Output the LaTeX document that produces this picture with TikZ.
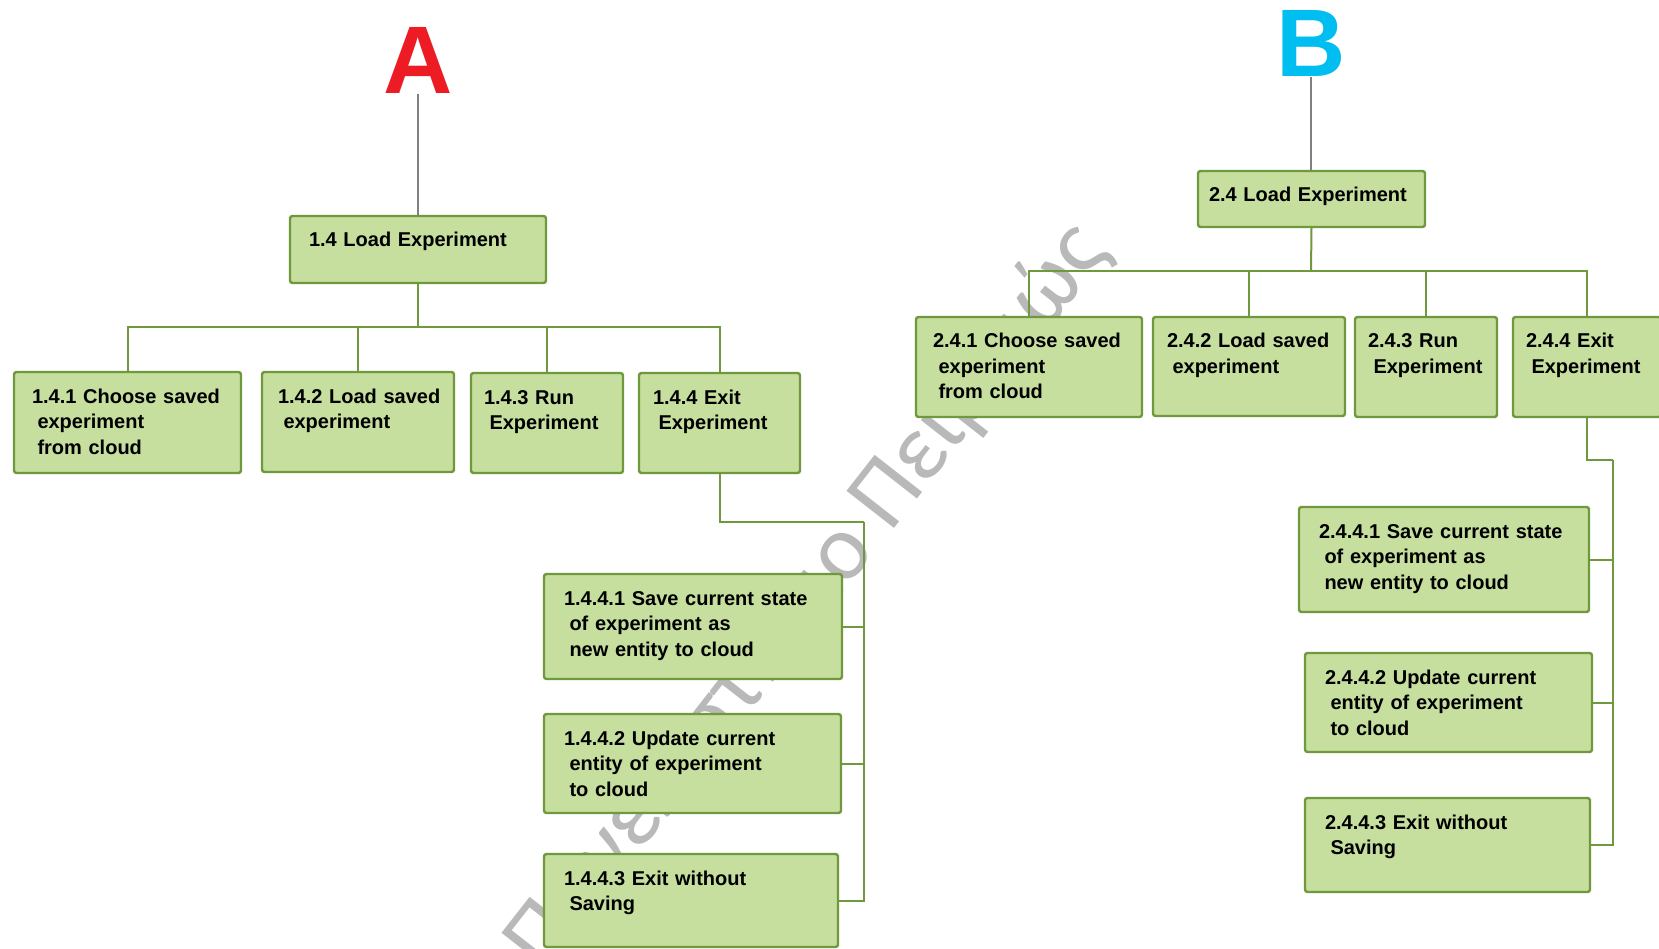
\documentclass[tikz,border=0pt]{standalone}
\usepackage{fontspec}
\setmainfont{Liberation Sans}
\newfontfamily\wmfont{Carlito}
\usetikzlibrary{calc}

\definecolor{boxfill}{RGB}{198,222,158}
\definecolor{boxline}{RGB}{112,152,60}
\definecolor{stemgray}{RGB}{128,128,128}
\definecolor{markA}{RGB}{237,28,36}
\definecolor{markB}{RGB}{0,190,240}
\definecolor{wmgray}{RGB}{185,185,185}

% indent of the continuation lines inside a box
\newcommand\wbsind{\hspace*{5.5pt}}

% box: name, left, top, right, bottom, text inset, text
\newcommand\wbsbox[7]{%
  \pgfmathsetmacro\wbsw{#4-#2-#6-2}%
  \node[box, anchor=north west, minimum width=#4-#2, minimum height=#5-#3] (#1) at (#2,#3) {};
  \node[lbl, text width=\wbsw pt, anchor=base west] (#1-t) at ($(#1.north west)+(#6,31)$) {#7};
}

\begin{document}
\begin{tikzpicture}[x=1pt, y=-1pt,
  box/.style={draw=boxline, fill=boxfill, line width=2.4pt, rounded corners=2.5pt,
              inner sep=0pt, outer sep=0pt},
  lbl/.style={inner sep=0pt, outer sep=0pt, align=left,
              font=\fontsize{20}{25.5}\selectfont\bfseries, text=black},
  conn/.style={draw=boxline, line width=2pt},
  stem/.style={draw=stemgray, line width=1.8pt},
  letter/.style={inner sep=0pt, outer sep=0pt, font=\fontsize{96}{96}\selectfont\bfseries}]

\useasboundingbox (0,0) rectangle (1659,949);
\fill[white] (0,0) rectangle (1659,949);

% watermark behind everything
\node[inner sep=0pt, anchor=base, rotate=52, text=wmgray,
      font=\wmfont\fontsize{94}{94}\selectfont] (wm) at (828,613) {Πανεπιστήμιο Πειραιώς};

% ---------------- tree A ----------------
\node[letter, text=markA, anchor=base] (A) at (418,94) {A};

\wbsbox{L14}{290}{216}{546}{283}{19}{1.4 Load Experiment}
\wbsbox{L141}{14}{372}{241}{473}{18}{1.4.1 Choose saved\\\wbsind experiment\\\wbsind from cloud}
\wbsbox{L142}{262}{372}{454}{472}{16}{1.4.2 Load saved\\\wbsind experiment}
\wbsbox{L143}{471}{373}{623}{473}{13}{1.4.3 Run\\\wbsind Experiment}
\wbsbox{L144}{639}{373}{800}{473}{14}{1.4.4 Exit\\\wbsind Experiment}
\wbsbox{L1441}{544}{574}{842}{679}{20}{1.4.4.1 Save current state\\\wbsind of experiment as\\\wbsind new entity to cloud}
\wbsbox{L1442}{544}{714}{841}{813}{20}{1.4.4.2 Update current\\\wbsind entity of experiment\\\wbsind to cloud}
\wbsbox{L1443}{544}{854}{838}{947}{20}{1.4.4.3 Exit without\\\wbsind Saving}

\draw[stem] (A.base) -- (A.base |- L14.north);
\coordinate (busA) at (418,327);
\draw[conn] (L14.south) -- (busA);
\draw[conn] (busA) -| (L141.north);
\draw[conn] (busA) -| (L142.north);
\draw[conn] (busA) -| (L143.north);
\draw[conn] (busA) -| (L144.north);
\coordinate (jA) at (864,522);
\draw[conn] (L144.south) |- (jA);
\draw[conn] (jA) |- (L1441.east);
\draw[conn] (jA) |- (L1442.east);
\draw[conn] (jA) |- (L1443.east);

% ---------------- tree B ----------------
\node[letter, text=markB, anchor=base] (B) at (1311,77) {B};

\wbsbox{L24}{1198}{171}{1425}{227}{11}{2.4 Load Experiment}
\wbsbox{L241}{916}{317}{1142}{417}{17}{2.4.1 Choose saved\\\wbsind experiment\\\wbsind from cloud}
\wbsbox{L242}{1153}{317}{1345}{416}{14}{2.4.2 Load saved\\\wbsind experiment}
\wbsbox{L243}{1355}{317}{1497}{417}{13}{2.4.3 Run\\\wbsind Experiment}
\wbsbox{L244}{1513}{317}{1661}{417}{13}{2.4.4 Exit\\\wbsind Experiment}
\wbsbox{L2441}{1299}{507}{1589}{612}{20}{2.4.4.1 Save current state\\\wbsind of experiment as\\\wbsind new entity to cloud}
\wbsbox{L2442}{1305}{653}{1592}{752}{20}{2.4.4.2 Update current\\\wbsind entity of experiment\\\wbsind to cloud}
\wbsbox{L2443}{1305}{798}{1590}{892}{20}{2.4.4.3 Exit without\\\wbsind Saving}

\draw[stem] (B.base) -- (B.base |- L24.north);
\coordinate (busB) at (1311,271);
\draw[conn] (L24.south) -- (busB);
\draw[conn] (busB) -| (L241.north);
\draw[conn] (busB) -| (L242.north);
\draw[conn] (busB) -| (L243.north);
\draw[conn] (busB) -| (L244.north);
\coordinate (jB) at (1613,460);
\draw[conn] (L244.south) |- (jB);
\draw[conn] (jB) |- (L2441.east);
\draw[conn] (jB) |- (L2442.east);
\draw[conn] (jB) |- (L2443.east);
\end{tikzpicture}
\end{document}
